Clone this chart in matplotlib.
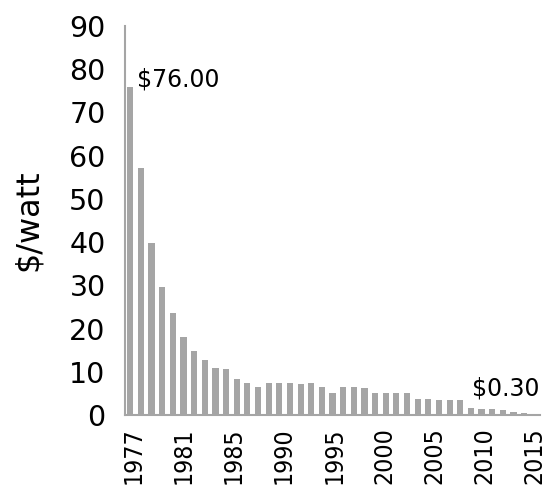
import numpy as np
import matplotlib
matplotlib.use("Agg")
import matplotlib.pyplot as plt
from matplotlib import font_manager

years = list(range(1977, 2016))
price = [76.0, 57.2, 39.9, 29.7, 23.5, 18.1, 14.9, 12.7, 10.9, 10.6,
         8.3, 7.3, 6.4, 7.3, 7.3, 7.3, 7.2, 7.3, 6.4, 5.0,
         6.4, 6.4, 6.2, 5.0, 5.0, 5.0, 5.0, 3.8, 3.8, 3.5,
         3.5, 3.5, 1.55, 1.3, 1.3, 1.15, 0.8, 0.55, 0.3]
tick_years = ["1977", "1981", "1985", "1990", "1995", "2000", "2005", "2010", "2015"]

fig = plt.figure(figsize=(5.52, 4.93), dpi=100)
ax = fig.add_axes([0.2264, 0.1582, 0.752, 0.789])

x = np.arange(len(years))
ax.bar(x, price, width=0.58, color="#a5a5a5")

ax.set_xlim(-0.5, len(years) - 0.5)
ax.set_ylim(0, 90)
ax.set_yticks(range(0, 91, 10))
ax.tick_params(axis="y", length=0, pad=14, labelsize=20.5)
ax.set_xticks(np.linspace(0.3, len(years) - 1, len(tick_years)))
cond = font_manager.FontProperties(family="DejaVu Sans", stretch="condensed", size=17.8)
ax.set_xticklabels(tick_years, rotation=90, fontproperties=cond)
ax.tick_params(axis="x", length=0, pad=9)
ax.set_ylabel("$/watt", fontsize=23, labelpad=18)

for s in ["top", "right"]:
    ax.spines[s].set_visible(False)
for s in ["left", "bottom"]:
    ax.spines[s].set_color("#a5a5a5")
    ax.spines[s].set_linewidth(1.5)

ax.text(0.6, price[0], f"${price[0]:.2f}", fontsize=17, va="baseline")
ax.text(32.1, price[-1] + 4.1, f"${price[-1]:.2f}", fontsize=17, va="baseline")

fig.savefig("out.png", dpi=100)
